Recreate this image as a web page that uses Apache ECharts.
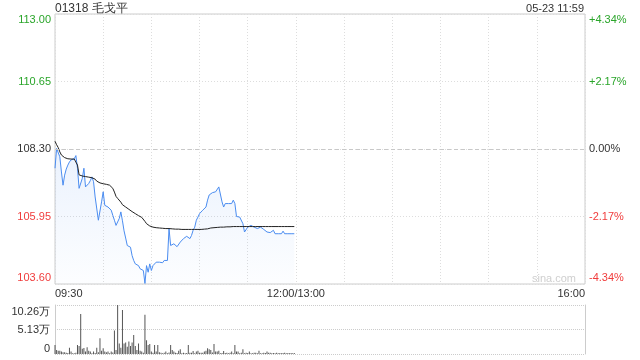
<!DOCTYPE html>
<html><head><meta charset="utf-8">
<script src="https://cdn.jsdelivr.net/npm/echarts@6/dist/echarts.min.js"></script>
<style>html,body{margin:0;padding:0;background:#fff}#c{width:640px;height:360px}</style>
</head><body><div id="c"></div>
<script>
const stockTitle = '01318 毛戈平';
const stampText = '05-23 11:59';
const watermark = 'sina.com';
const prevClose = 108.30;
const priceTicks = [103.60, 105.95, 108.30, 110.65, 113.00];
const pctTicks = ['-4.34%', '-2.17%', '0.00%', '+2.17%', '+4.34%'];
const volTicks = ['0', '5.13万', '10.26万'];
const volTickValues = [0, 5.13, 10.26];
const timeLabelMinutes = [0, 150, 330];
const timeLabels = ['09:30', '12:00/13:00', '16:00'];

// one value per trading minute from 09:30 to 11:59
const price = [
107.63,108.32,108.27,108.03,107.50,107.04,107.39,107.60,107.74,107.85,
107.92,107.94,107.96,108.07,107.63,106.93,106.87,107.28,107.63,106.98,
107.04,107.10,107.20,107.33,107.16,106.63,106.58,105.82,105.76,106.46,
106.81,106.34,106.30,106.28,106.23,106.17,105.99,105.82,105.64,105.76,
105.88,106.11,105.80,105.45,105.20,104.94,104.94,104.88,104.59,104.42,
104.30,104.28,104.24,104.13,104.18,104.07,103.62,104.24,104.01,104.30,
104.07,104.24,104.18,104.36,104.30,104.36,104.30,104.34,104.42,104.40,
104.42,105.53,104.94,104.94,105.00,104.94,104.90,104.94,105.06,105.00,
105.18,105.12,105.26,105.23,105.18,105.29,105.47,105.58,105.82,105.93,
106.05,106.11,106.17,106.11,106.28,106.52,106.70,106.75,106.78,106.81,
106.81,106.87,106.98,106.93,106.46,106.28,106.40,106.46,106.40,106.34,
106.40,106.52,106.40,105.95,105.93,105.93,105.93,105.70,105.41,105.35,
105.58,105.64,105.64,105.58,105.58,105.58,105.53,105.58,105.58,105.53,
105.50,105.47,105.41,105.47,105.39,105.41,105.47,105.35,105.35,105.35,
105.35,105.35,105.44,105.35,105.35,105.35,105.35,105.35,105.35,105.35
];
const avgPrice = [
108.57,108.45,108.35,108.20,108.09,108.04,108.00,107.98,107.96,107.95,
107.95,107.95,107.95,107.94,107.74,107.40,107.37,107.36,107.35,107.34,
107.33,107.32,107.31,107.30,107.29,107.25,107.18,107.15,107.12,107.10,
107.09,107.08,107.07,107.06,107.04,107.00,106.93,106.80,106.65,106.58,
106.52,106.45,106.36,106.32,106.28,106.24,106.20,106.16,106.12,106.08,
106.05,106.02,105.98,105.95,105.92,105.88,105.78,105.70,105.65,105.62,
105.60,105.58,105.57,105.56,105.56,105.55,105.55,105.54,105.54,105.53,
105.53,105.53,105.52,105.52,105.52,105.51,105.51,105.51,105.50,105.50,
105.50,105.50,105.50,105.50,105.50,105.50,105.50,105.50,105.50,105.50,
105.50,105.50,105.50,105.51,105.51,105.52,105.53,105.55,105.56,105.56,
105.57,105.57,105.57,105.58,105.58,105.58,105.58,105.59,105.59,105.59,
105.60,105.60,105.60,105.60,105.60,105.60,105.60,105.60,105.60,105.60,
105.60,105.60,105.60,105.60,105.60,105.60,105.60,105.60,105.60,105.60,
105.60,105.60,105.60,105.60,105.60,105.60,105.60,105.60,105.60,105.60,
105.60,105.60,105.60,105.60,105.60,105.60,105.60,105.60,105.60,105.60
];
// volume in 万 shares
const volume = [
1.9,0.85,0.7,0.7,0.5,0.35,0.35,0.28,0.2,1.3,
0.5,0.15,0.15,0.28,1.9,1.7,8.4,1.1,1.25,0.5,
1.4,0.7,0.5,0.15,0.5,0.2,1.3,0.35,3.3,0.7,
1.2,0.5,0.35,0.5,0.15,0.5,0.3,4.9,0.85,10.26,
2.2,1.3,9.2,2.2,2.4,1.5,2.6,1.7,2.4,4.0,
1.7,0.85,2.2,0.7,0.5,0.28,8.2,2.9,1.9,2.1,
0.5,0.28,1.9,0.5,1.9,0.35,0.28,0.15,0.28,0.5,
0.15,0.3,1.9,0.85,0.5,0.28,0.2,0.7,1.0,0.15,
0.28,0.15,0.2,1.9,0.28,0.28,0.63,0.15,0.5,0.7,
0.28,0.28,0.28,0.5,0.7,1.2,1.0,0.85,0.3,2.1,
0.5,0.5,0.7,0.15,0.2,0.63,0.2,0.28,0.15,0.28,
0.5,0.15,1.9,0.5,0.5,0.15,0.28,1.0,0.15,0.28,
0.2,0.5,0.15,0.15,0.28,0.28,0.15,0.7,0.15,0.15,
0.28,0.2,0.5,0.28,0.28,0.15,0.2,0.15,0.25,0.15,
0.2,0.15,0.2,0.25,0.15,0.2,0.15,0.2,0.15,0.2
];

const GREEN = '#2aa52a', RED = '#f03c3c', DARK = '#333', BLUE = '#4a8cf0';
const FONT = 'Arial, "Liberation Sans", sans-serif';
const t = (c, pad) => ({ color: c, fontSize: 11, fontFamily: FONT, padding: pad || 0 });

const chart = echarts.init(document.getElementById('c'), null, { renderer: 'canvas' });
chart.setOption({
  animation: false,
  backgroundColor: '#fff',
  title: [
    { text: stockTitle, left: 55, top: 3, padding: 0, textStyle: { fontSize: 12, fontWeight: 'normal', color: DARK, fontFamily: FONT } },
    { text: stampText, right: 56, top: 3, padding: 0, textStyle: { fontSize: 11, fontWeight: 'normal', color: DARK, fontFamily: FONT } }
  ],
  graphic: [{ type: 'text', left: 532, top: 273, silent: true,
    style: { text: watermark, fill: '#cfcfcf', fontSize: 11, fontFamily: FONT } }],
  grid: [
    { left: 55, right: 55, top: 14, height: 270, show: true, borderColor: '#cccccc', borderWidth: 1 },
    { left: 55, right: 55, top: 305, height: 49 }
  ],
  xAxis: [
    { type: 'value', gridIndex: 0, min: 0, max: 330, interval: 30,
      axisLine: { show: false }, axisTick: { show: false },
      splitLine: { show: true, lineStyle: { color: '#dddddd', type: [1, 2] } },
      axisLabel: { show: true, margin: 4, fontSize: 11, fontFamily: FONT, color: DARK,
        showMinLabel: true, showMaxLabel: true, alignMinLabel: 'left', alignMaxLabel: 'right',
        formatter: v => { const k = timeLabelMinutes.indexOf(Math.round(v)); return k >= 0 ? timeLabels[k] : ''; } } },
    { type: 'value', gridIndex: 1, min: 0, max: 330, interval: 30,
      axisLine: { show: false }, axisTick: { show: false }, axisLabel: { show: false }, splitLine: { show: false } }
  ],
  yAxis: [
    { type: 'value', gridIndex: 0, position: 'left', min: priceTicks[0], max: priceTicks[4],
      interval: 2.35, axisLine: { show: false }, axisTick: { show: false },
      splitLine: { show: true, lineStyle: { color: '#dddddd', type: [1, 2] } },
      axisLabel: { margin: 4, formatter: (v, i) => {
          let s = Math.abs(v - prevClose) < 0.005 ? 'k' : (v > prevClose ? 'g' : 'r');
          if (i === 0) s += 'b'; if (i === 4) s += 't';
          return '{' + s + '|' + priceTicks[i].toFixed(2) + '}'; },
        rich: { g: t(GREEN), r: t(RED), k: t(DARK), gt: t(GREEN, [12, 0, 0, 0]), rb: t(RED, [0, 0, 13, 0]) } } },
    { type: 'value', gridIndex: 0, position: 'right', min: -4.34, max: 4.34, interval: 2.17,
      axisLine: { show: false }, axisTick: { show: false }, splitLine: { show: false },
      axisLabel: { margin: 4, align: 'left', formatter: (v, i) => {
          let s = i === 2 ? 'k' : (i > 2 ? 'g' : 'r');
          if (i === 0) s += 'b'; if (i === 4) s += 't';
          return '{' + s + '|' + pctTicks[i] + '}'; },
        rich: { g: t(GREEN), r: t(RED), k: t(DARK), gt: t(GREEN, [12, 0, 0, 0]), rb: t(RED, [0, 0, 13, 0]) } } },
    { type: 'value', gridIndex: 1, position: 'left', min: volTickValues[0], max: volTickValues[2], interval: volTickValues[1],
      axisLine: { show: true, lineStyle: { color: '#cccccc' } }, axisTick: { show: false },
      splitLine: { show: true, lineStyle: { color: '#cccccc', type: [1, 1] } },
      axisLabel: { margin: 5, formatter: (v, i) => {
          const s = i === 0 ? 'b' : (i === 2 ? 't' : 'k');
          return '{' + s + '|' + volTicks[i] + '}'; },
        rich: { k: t(DARK), t: t(DARK, [14, 0, 0, 0]), b: t(DARK, [0, 0, 10, 0]) } } },
    { type: 'value', gridIndex: 1, position: 'right', min: volTickValues[0], max: volTickValues[2], interval: volTickValues[1],
      axisLine: { show: true, lineStyle: { color: '#cccccc' } }, axisTick: { show: false },
      axisLabel: { show: false }, splitLine: { show: false } }
  ],
  series: [
    { type: 'line', xAxisIndex: 0, yAxisIndex: 0, data: price.map((p, i) => [i, p]),
      showSymbol: false, symbol: 'none', lineStyle: { color: BLUE, width: 1 },
      areaStyle: { origin: 'start', color: new echarts.graphic.LinearGradient(0, 0, 0, 1, [
        { offset: 0, color: 'rgba(74,140,240,0.16)' }, { offset: 1, color: 'rgba(74,140,240,0.02)' }]) },
      markLine: { silent: true, symbol: 'none', label: { show: false },
        lineStyle: { color: '#c8c8c8', type: [4, 3], width: 1 }, data: [{ yAxis: prevClose }] } },
    { type: 'line', xAxisIndex: 0, yAxisIndex: 0, data: avgPrice.map((p, i) => [i, p]),
      showSymbol: false, symbol: 'none', lineStyle: { color: '#222', width: 1 } },
    { type: 'bar', xAxisIndex: 1, yAxisIndex: 2, data: volume.map((v, i) => [i, v]),
      barWidth: 1, itemStyle: { color: '#555' } }
  ]
});
</script></body></html>
